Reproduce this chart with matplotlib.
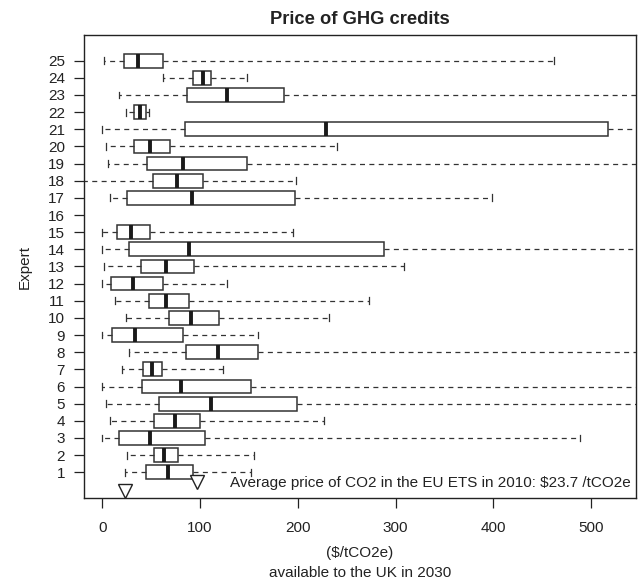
import matplotlib
matplotlib.use("Agg")
import matplotlib.pyplot as plt
import numpy as np

plt.rcParams['font.family'] = ['Liberation Sans', 'DejaVu Sans']

# Expert elicitation: price of GHG credits available to the UK in 2030 ($/tCO2e)
experts = list(range(1, 26))
whisker_low = [23.5, 25.0, 0.0, 8.2, 3.8, 0.0, 20.5, 27.0, 0.0, 24.3,
               13.0, 0.0, 1.7, 0.0, 0.0, None, 7.9, -30.0, 5.8, 4.1,
               0.0, 23.9, 16.8, 62.1, 2.0]
box_low = [44.7, 52.9, 17.4, 53.2, 58.3, 40.9, 42.0, 85.4, 9.6, 68.6,
           48.1, 8.9, 39.3, 27.3, 15.7, None, 25.6, 51.6, 45.4, 32.1,
           84.6, 32.1, 86.7, 93.2, 21.9]
medians = [66.9, 63.5, 48.5, 74.4, 111.3, 80.9, 50.9, 118.1, 33.8, 91.1,
           65.5, 31.1, 64.9, 88.4, 29.7, None, 91.8, 76.1, 82.6, 49.2,
           229.3, 38.6, 127.6, 102.7, 36.9]
box_high = [92.5, 77.2, 105.4, 100.0, 199.3, 151.9, 61.4, 159.4, 82.3, 119.1,
            89.1, 62.4, 94.2, 288.3, 48.8, None, 197.2, 103.4, 147.8, 69.6,
            517.6, 44.4, 186.3, 111.6, 62.1]
whisker_high = [152.2, 155.6, 488.2, 226.6, 600.0, 600.0, 123.5, 600.0, 159.7, 232.0,
                273.0, 127.3, 309.1, 600.0, 195.2, None, 398.2, 198.3, 600.0, 240.2,
                600.0, 47.8, 600.0, 148.1, 462.3]

eu_ets_2010 = 23.7
overall_marker = 96.6

stats, positions = [], []
for e, lo, q1, med, q3, hi in zip(experts, whisker_low, box_low, medians,
                                   box_high, whisker_high):
    if med is None:
        continue
    stats.append(dict(whislo=lo, q1=q1, med=med, q3=q3, whishi=hi, fliers=[]))
    positions.append(e)

fig = plt.figure(figsize=(6.4, 5.84), dpi=100)
ax = fig.add_axes([0.131, 0.1467, 0.863, 0.7929])

edge = '#333333'
fs = 11
ax.bxp(stats, positions=positions, vert=False, widths=0.8,
       patch_artist=True, showfliers=False,
       boxprops=dict(facecolor='white', edgecolor=edge, linewidth=1.1),
       medianprops=dict(color='#1a1a1a', linewidth=2.8, solid_capstyle='butt'),
       whiskerprops=dict(color=edge, linewidth=0.9, linestyle=(0, (4, 3.5))),
       capprops=dict(color=edge, linewidth=0.9), capwidths=0.4)

# Reference price markers
ax.plot([eu_ets_2010], [-0.12], marker='v', markersize=9.5, markerfacecolor='white',
        markeredgecolor='#222222', markeredgewidth=1.0, linestyle='none', clip_on=False)
ax.plot([overall_marker], [0.45], marker='v', markersize=9.5, markerfacecolor='white',
        markeredgecolor='#222222', markeredgewidth=1.0, linestyle='none', clip_on=False)
ax.text(540, 0.38, 'Average price of CO2 in the EU ETS in 2010: $23.7 /tCO2e',
        ha='right', va='center', fontsize=fs, color='#222222')

ax.set_xlim(-18.7, 546)
ax.set_ylim(-0.52, 26.48)
ax.set_xticks([0, 100, 200, 300, 400, 500])
ax.set_yticks(experts)
ax.set_yticklabels([str(e) for e in experts])
ax.tick_params(axis='both', direction='out', length=7.5, width=0.9, color='#222222',
               labelsize=fs, labelcolor='#222222')
ax.tick_params(axis='y', pad=6)
ax.tick_params(axis='x', pad=9)
for s in ax.spines.values():
    s.set_color('#222222')
    s.set_linewidth(1.0)

ax.set_ylabel('Expert', fontsize=fs, color='#222222', labelpad=12)
ax.set_title('Price of GHG credits', fontsize=13.2, fontweight='bold',
             color='#222222', pad=8)
fig.text(0.5625, 1 - 553 / 584, '($/tCO2e)', ha='center', va='center',
         fontsize=fs, color='#222222')
fig.text(0.5625, 1 - 573 / 584, 'available to the UK in 2030', ha='center',
         va='center', fontsize=fs, color='#222222')

fig.savefig('out.png', dpi=100)
